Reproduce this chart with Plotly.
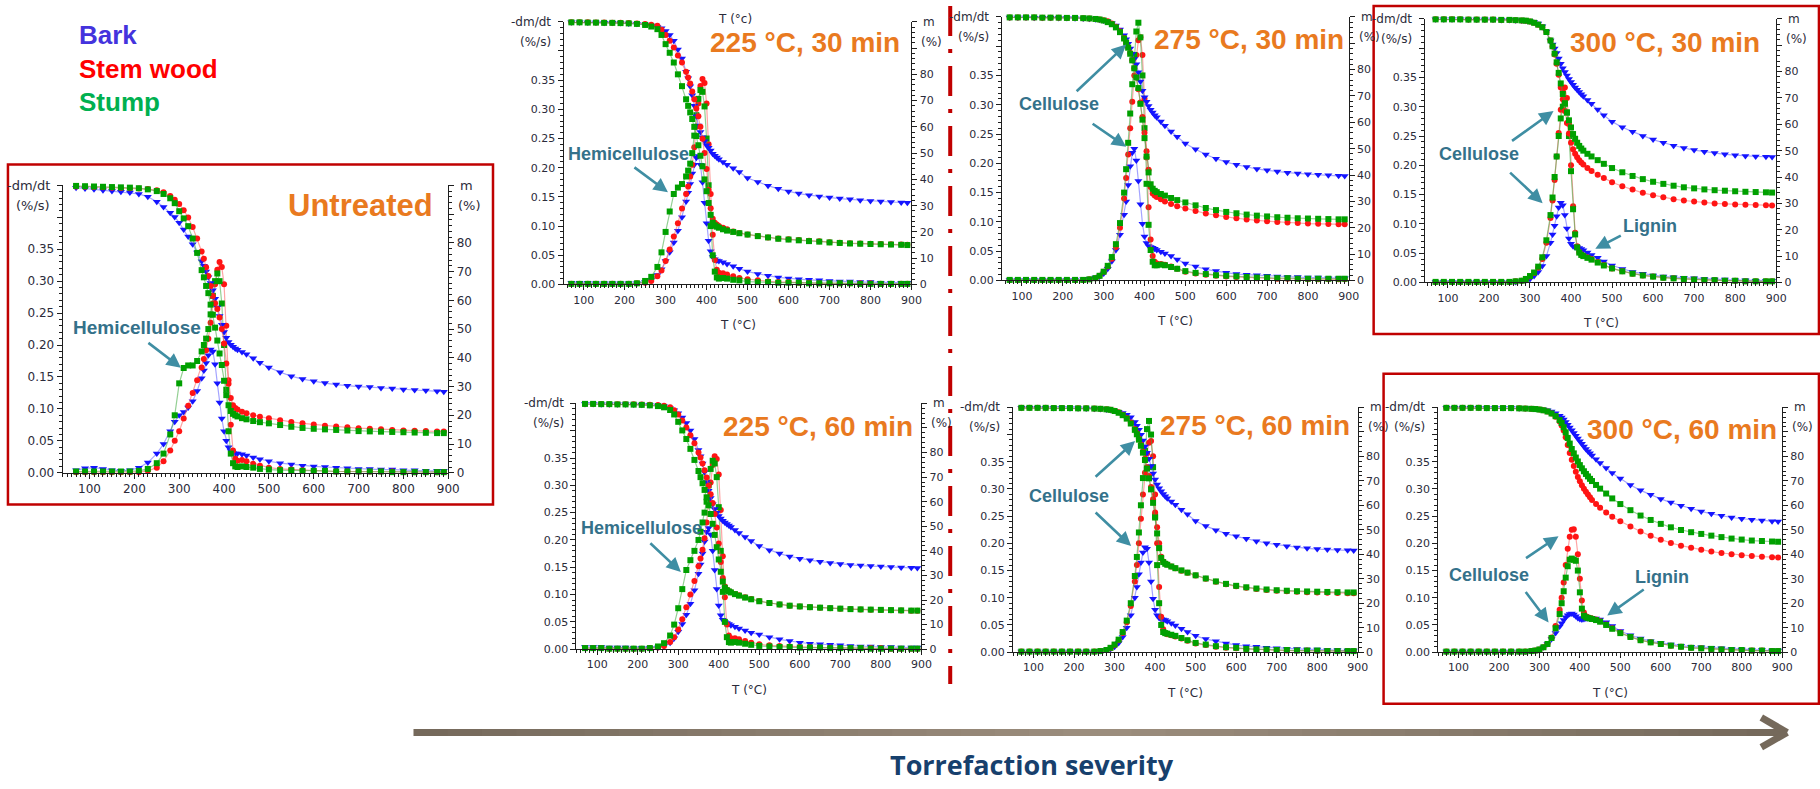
import plotly.graph_objects as go

# ---------------- DATA ----------------
TEMP_C = [70, 90, 110, 130, 150, 170, 190, 210, 230, 250,
          265, 280, 290, 300, 310, 320, 330, 340, 350,
          355, 360, 365, 370, 375, 380, 385, 390, 395, 400, 405, 410, 415, 420, 425, 430,
          440, 450, 465, 480, 500,
          525, 550, 575, 600, 625, 650, 675, 700, 725, 750, 775, 800, 825, 850, 875,
          890]

SERIES = ["Bark", "Stem wood", "Stump"]
PANEL_TITLES = ["Untreated", "225 °C, 30 min", "225 °C, 60 min", "275 °C, 30 min",
                "275 °C, 60 min", "300 °C, 30 min", "300 °C, 60 min"]
ANNOT_HEMI = "Hemicellulose"
ANNOT_CELL = "Cellulose"
ANNOT_LIGN = "Lignin"
AXIS_TEXT = ["-dm/dt", "(%/s)", "m", "(%)", "T (°C)"]
BOTTOM_TEXT = "Torrefaction severity"

# --- Untreated ---
m_bark_u = [99.2, 98.9, 98.6, 98.3, 98.0, 97.8, 97.5, 97.0, 96.0, 94.3,
            92.5, 90.5, 89.0, 87.0, 84.6, 82.2, 79.5, 76.6, 73.6,
            72.0, 70.0, 68.0, 66.0, 63.5, 60.5, 57.5, 54.5, 51.5, 49.0, 47.0, 45.5, 44.5, 43.8, 43.2, 42.8,
            42.0, 41.2, 39.8, 38.3, 36.6,
            35.0, 33.6, 32.6, 31.8, 31.2, 30.7, 30.3, 30.0, 29.8, 29.5, 29.3, 29.0, 28.8, 28.6, 28.4,
            28.2]
m_stem_u = [99.6, 99.5, 99.4, 99.3, 99.2, 99.1, 99.0, 98.9, 98.7, 98.3,
            97.6, 96.3, 95.0, 93.5, 91.3, 88.8, 85.5, 81.5, 77.0,
            74.5, 71.5, 68.5, 65.0, 61.5, 59.0, 57.0, 54.0, 50.0, 45.0, 38.0, 31.0, 26.0, 23.5, 22.5, 22.0,
            21.2, 20.7, 20.0, 19.5, 19.0,
            18.3, 17.7, 17.2, 16.8, 16.4, 16.1, 15.8, 15.5, 15.3, 15.1, 14.9, 14.7, 14.6, 14.5, 14.4,
            14.4]
m_stump_u = [99.8, 99.7, 99.6, 99.5, 99.4, 99.3, 99.2, 99.0, 98.6, 98.0,
             97.0, 95.5, 93.8, 91.0, 88.5, 85.8, 81.5, 76.5, 70.5,
             68.0, 65.0, 62.5, 58.5, 55.0, 50.5, 46.0, 41.5, 37.5, 32.0, 27.0, 23.5, 21.5, 20.5, 20.0, 19.6,
             19.0, 18.6, 18.0, 17.6, 17.2,
             16.6, 16.0, 15.6, 15.3, 15.1, 14.9, 14.7, 14.5, 14.4, 14.3, 14.2, 14.1, 14.0, 13.9, 13.8,
             13.8]
d_bark_u = [0.004, 0.007, 0.008, 0.006, 0.004, 0.003, 0.004, 0.008, 0.016, 0.030,
            0.045, 0.065, 0.080, 0.090, 0.095, 0.102, 0.112, 0.128, 0.148,
            0.160, 0.172, 0.184, 0.193, 0.190, 0.170, 0.140, 0.110, 0.085, 0.065, 0.050, 0.040, 0.034, 0.031, 0.030, 0.030,
            0.029, 0.027, 0.024, 0.021, 0.018,
            0.015, 0.013, 0.011, 0.010, 0.009, 0.008, 0.007, 0.006, 0.006, 0.005, 0.005, 0.004, 0.004, 0.003, 0.003,
            0.003]
d_stem_u = [0.001, 0.001, 0.001, 0.001, 0.001, 0.001, 0.001, 0.001, 0.003, 0.008,
            0.018, 0.035, 0.050, 0.065, 0.085, 0.105, 0.125, 0.145, 0.165,
            0.178, 0.192, 0.210, 0.235, 0.265, 0.295, 0.318, 0.330, 0.322, 0.295, 0.230, 0.145, 0.075, 0.035, 0.022, 0.019,
            0.020, 0.018, 0.014, 0.011, 0.008,
            0.006, 0.005, 0.004, 0.003, 0.003, 0.002, 0.002, 0.002, 0.002, 0.002, 0.002, 0.001, 0.001, 0.001, 0.001,
            0.001]
d_stump_u = [0.002, 0.002, 0.002, 0.002, 0.002, 0.002, 0.002, 0.003, 0.006, 0.015,
             0.030, 0.060, 0.090, 0.140, 0.164, 0.168, 0.168, 0.175, 0.190,
             0.200, 0.210, 0.225, 0.248, 0.277, 0.300, 0.312, 0.300, 0.265, 0.200, 0.130, 0.065, 0.030, 0.015, 0.010, 0.009,
             0.010, 0.009, 0.008, 0.006, 0.005,
             0.004, 0.004, 0.003, 0.003, 0.003, 0.002, 0.002, 0.002, 0.002, 0.002, 0.001, 0.001, 0.001, 0.001, 0.001,
             0.001]

# --- 225 C, 30 min ---
m_bark_a = [99.8, 99.8, 99.7, 99.7, 99.6, 99.6, 99.5, 99.4, 99.3, 99.0,
            98.6, 98.0, 97.5, 96.5, 95.0, 92.8, 89.5, 86.0, 81.0,
            78.5, 75.5, 72.0, 68.0, 64.0, 60.5, 58.0, 56.0, 54.5, 53.0, 52.0, 51.0, 49.8, 49.0, 48.3, 47.7,
            46.6, 45.6, 44.2, 42.8, 40.5,
            39.0, 37.6, 36.4, 35.4, 34.6, 34.0, 33.5, 33.1, 32.7, 32.4, 32.1, 31.8, 31.6, 31.4, 31.2,
            31.1]
m_stem_a = [99.8, 99.8, 99.8, 99.7, 99.7, 99.6, 99.6, 99.5, 99.4, 99.2,
            98.9, 98.5, 97.0, 95.0, 92.8, 90.2, 87.2, 84.5, 81.0,
            78.8, 76.5, 73.5, 70.5, 67.0, 64.0, 60.0, 55.5, 50.0, 44.0, 36.0, 29.0, 25.0, 23.5, 22.8, 22.3,
            21.6, 21.0, 20.2, 19.6, 19.0,
            18.4, 17.9, 17.5, 17.2, 16.9, 16.6, 16.4, 16.1, 15.9, 15.7, 15.6, 15.5, 15.4, 15.3, 15.2,
            15.1]
m_stump_a = [99.8, 99.8, 99.7, 99.7, 99.6, 99.6, 99.5, 99.4, 99.2, 98.8,
             98.2, 97.2, 95.0, 91.5, 88.2, 84.5, 80.0, 75.5, 70.5,
             68.0, 65.5, 63.0, 60.0, 56.5, 53.0, 49.0, 45.0, 40.0, 35.5, 31.0, 26.5, 23.5, 22.5, 22.0, 21.6,
             21.0, 20.5, 20.0, 19.5, 19.0,
             18.4, 17.9, 17.4, 17.1, 16.8, 16.5, 16.3, 16.0, 15.8, 15.6, 15.5, 15.4, 15.3, 15.2, 15.1,
             15.0]
d_bark_a = [0.003, 0.003, 0.003, 0.002, 0.002, 0.002, 0.002, 0.002, 0.002, 0.004,
            0.008, 0.016, 0.026, 0.040, 0.055, 0.072, 0.092, 0.115, 0.142,
            0.157, 0.172, 0.190, 0.205, 0.217, 0.220, 0.205, 0.175, 0.140, 0.105, 0.075, 0.057, 0.047, 0.043, 0.041, 0.040,
            0.038, 0.035, 0.031, 0.027, 0.022,
            0.018, 0.015, 0.012, 0.010, 0.009, 0.008, 0.007, 0.006, 0.005, 0.005, 0.004, 0.004, 0.003, 0.003, 0.003,
            0.003]
d_stem_a = [0.001, 0.001, 0.001, 0.001, 0.001, 0.001, 0.001, 0.001, 0.002, 0.003,
            0.006, 0.014, 0.024, 0.040, 0.060, 0.082, 0.105, 0.130, 0.155,
            0.168, 0.185, 0.205, 0.235, 0.270, 0.310, 0.340, 0.352, 0.345, 0.310, 0.240, 0.155, 0.085, 0.042, 0.025, 0.020,
            0.019, 0.017, 0.014, 0.011, 0.009,
            0.007, 0.005, 0.004, 0.004, 0.003, 0.003, 0.002, 0.002, 0.002, 0.002, 0.002, 0.002, 0.001, 0.001, 0.001,
            0.001]
d_stump_a = [0.001, 0.001, 0.001, 0.001, 0.001, 0.001, 0.001, 0.001, 0.002, 0.006,
             0.013, 0.030, 0.055, 0.090, 0.125, 0.155, 0.166, 0.172, 0.185,
             0.195, 0.207, 0.225, 0.255, 0.290, 0.318, 0.333, 0.330, 0.305, 0.250, 0.170, 0.100, 0.050, 0.022, 0.012, 0.010,
             0.011, 0.010, 0.008, 0.007, 0.005,
             0.004, 0.004, 0.003, 0.003, 0.003, 0.002, 0.002, 0.002, 0.002, 0.002, 0.001, 0.001, 0.001, 0.001, 0.001,
             0.001]

# --- 225 C, 60 min ---
m_bark_b = [99.8, 99.8, 99.7, 99.7, 99.6, 99.6, 99.5, 99.4, 99.3, 99.1,
            98.8, 98.0, 97.2, 96.0, 94.3, 92.0, 89.0, 85.5, 81.0,
            78.5, 75.5, 72.0, 68.0, 64.5, 61.5, 59.0, 57.0, 55.5, 54.2, 53.2, 52.3, 51.5, 50.9, 50.3, 49.7,
            48.5, 47.3, 45.6, 44.0, 42.0,
            40.3, 38.9, 37.7, 36.8, 36.2, 35.6, 35.1, 34.7, 34.3, 34.0, 33.8, 33.6, 33.4, 33.2, 33.1,
            33.0]
m_stem_b = [99.8, 99.8, 99.8, 99.7, 99.7, 99.6, 99.6, 99.5, 99.4, 99.3,
            99.0, 98.4, 97.2, 95.5, 93.0, 90.2, 87.0, 83.8, 80.0,
            78.0, 75.5, 72.8, 69.8, 66.5, 63.0, 59.5, 55.0, 49.5, 43.0, 35.5, 29.0, 25.5, 24.2, 23.6, 23.2,
            22.5, 21.9, 21.1, 20.4, 19.6,
            18.8, 18.2, 17.7, 17.4, 17.1, 16.9, 16.7, 16.5, 16.3, 16.1, 16.0, 15.9, 15.8, 15.7, 15.6,
            15.6]
m_stump_b = [99.8, 99.8, 99.7, 99.7, 99.6, 99.6, 99.5, 99.4, 99.2, 98.9,
             98.4, 97.3, 95.5, 92.5, 89.0, 85.5, 81.5, 77.0, 72.5,
             70.0, 67.5, 64.8, 61.8, 58.5, 55.0, 51.0, 46.5, 41.5, 36.5, 31.5, 27.5, 25.0, 24.0, 23.5, 23.1,
             22.4, 21.8, 21.0, 20.3, 19.5,
             18.8, 18.2, 17.7, 17.4, 17.1, 16.9, 16.7, 16.5, 16.3, 16.2, 16.1, 16.0, 15.9, 15.8, 15.7,
             15.7]
d_bark_b = [0.004, 0.004, 0.004, 0.003, 0.003, 0.003, 0.002, 0.002, 0.002, 0.003,
            0.006, 0.012, 0.020, 0.032, 0.046, 0.063, 0.083, 0.108, 0.138,
            0.155, 0.175, 0.197, 0.215, 0.222, 0.210, 0.180, 0.145, 0.110, 0.080, 0.062, 0.054, 0.050, 0.048, 0.046, 0.044,
            0.041, 0.038, 0.034, 0.030, 0.027,
            0.022, 0.018, 0.015, 0.012, 0.010, 0.009, 0.008, 0.007, 0.006, 0.005, 0.005, 0.004, 0.004, 0.003, 0.003,
            0.003]
d_stem_b = [0.002, 0.002, 0.002, 0.001, 0.001, 0.001, 0.001, 0.001, 0.002, 0.003,
            0.006, 0.013, 0.022, 0.036, 0.055, 0.077, 0.100, 0.125, 0.152,
            0.166, 0.182, 0.203, 0.232, 0.268, 0.305, 0.337, 0.353, 0.348, 0.320, 0.255, 0.170, 0.095, 0.045, 0.025, 0.020,
            0.020, 0.018, 0.015, 0.012, 0.009,
            0.007, 0.006, 0.005, 0.004, 0.004, 0.003, 0.003, 0.002, 0.002, 0.002, 0.002, 0.002, 0.001, 0.001, 0.001,
            0.001]
d_stump_b = [0.002, 0.002, 0.002, 0.001, 0.001, 0.001, 0.001, 0.001, 0.002, 0.005,
             0.011, 0.025, 0.045, 0.075, 0.110, 0.145, 0.163, 0.180, 0.200,
             0.215, 0.232, 0.250, 0.270, 0.300, 0.330, 0.345, 0.340, 0.315, 0.260, 0.180, 0.105, 0.050, 0.022, 0.013, 0.012,
             0.013, 0.012, 0.010, 0.008, 0.006,
             0.005, 0.004, 0.004, 0.003, 0.003, 0.003, 0.002, 0.002, 0.002, 0.002, 0.001, 0.001, 0.001, 0.001, 0.001,
             0.001]

# --- 275 C, 30 min ---
m_bark_c = [99.8, 99.8, 99.8, 99.7, 99.7, 99.7, 99.6, 99.6, 99.5, 99.4,
            99.3, 99.1, 98.9, 98.6, 98.2, 97.6, 96.7, 95.2, 93.0,
            91.5, 89.8, 88.0, 86.0, 84.0, 82.0, 79.0, 75.5, 72.0, 69.5, 67.8, 66.2, 64.8, 63.7, 62.7, 61.9,
            60.3, 58.7, 56.5, 54.5, 52.0,
            49.8, 47.8, 46.2, 44.9, 43.9, 43.0, 42.3, 41.8, 41.3, 40.9, 40.6, 40.3, 40.1, 39.9, 39.7,
            39.6]
m_stem_c = [99.8, 99.8, 99.8, 99.8, 99.7, 99.7, 99.7, 99.6, 99.6, 99.5,
            99.4, 99.2, 99.0, 98.7, 98.3, 97.5, 96.2, 94.5, 92.0,
            90.3, 88.5, 86.3, 83.5, 80.5, 77.0, 72.5, 67.5, 62.0, 56.0, 49.0, 42.0, 35.5, 33.0, 32.2, 31.7,
            30.8, 30.0, 29.0, 28.2, 27.3,
            26.4, 25.4, 24.7, 24.1, 23.6, 23.1, 22.8, 22.5, 22.2, 22.0, 21.8, 21.6, 21.5, 21.4, 21.3,
            21.3]
m_stump_c = [99.8, 99.8, 99.8, 99.8, 99.7, 99.7, 99.7, 99.6, 99.6, 99.5,
             99.4, 99.2, 99.0, 98.6, 98.0, 97.2, 96.0, 94.2, 91.8,
             90.2, 88.3, 86.0, 83.5, 80.5, 77.0, 73.0, 67.0, 61.0, 54.0, 47.0, 41.0, 36.5, 34.8, 34.0, 33.5,
             32.8, 32.2, 31.3, 30.5, 29.6,
             28.5, 27.5, 26.7, 26.0, 25.5, 25.0, 24.6, 24.3, 24.0, 23.8, 23.6, 23.5, 23.4, 23.3, 23.2,
             23.2]
d_bark_c = [0.001, 0.001, 0.001, 0.001, 0.001, 0.001, 0.001, 0.001, 0.001, 0.002,
            0.003, 0.005, 0.007, 0.012, 0.020, 0.033, 0.052, 0.078, 0.112,
            0.135, 0.163, 0.195, 0.218, 0.225, 0.205, 0.170, 0.130, 0.097, 0.075, 0.064, 0.059, 0.057, 0.056, 0.054, 0.052,
            0.049, 0.046, 0.042, 0.036, 0.029,
            0.024, 0.019, 0.016, 0.013, 0.011, 0.010, 0.009, 0.008, 0.007, 0.006, 0.006, 0.005, 0.005, 0.004, 0.004,
            0.004]
d_stem_c = [0.001, 0.001, 0.001, 0.001, 0.001, 0.001, 0.001, 0.001, 0.001, 0.001,
            0.002, 0.004, 0.008, 0.015, 0.024, 0.037, 0.057, 0.090, 0.140,
            0.175, 0.215, 0.260, 0.305, 0.350, 0.385, 0.410, 0.415, 0.385, 0.310, 0.210, 0.125, 0.070, 0.042, 0.032, 0.029,
            0.028, 0.027, 0.024, 0.020, 0.015,
            0.012, 0.010, 0.008, 0.007, 0.006, 0.005, 0.004, 0.004, 0.003, 0.003, 0.003, 0.002, 0.002, 0.002, 0.002,
            0.002]
d_stump_c = [0.001, 0.001, 0.001, 0.001, 0.001, 0.001, 0.001, 0.001, 0.001, 0.001,
             0.002, 0.004, 0.008, 0.015, 0.025, 0.040, 0.062, 0.098, 0.150,
             0.190, 0.235, 0.285, 0.335, 0.385, 0.425, 0.440, 0.415, 0.350, 0.260, 0.165, 0.095, 0.052, 0.032, 0.026, 0.026,
             0.027, 0.026, 0.023, 0.020, 0.016,
             0.013, 0.011, 0.009, 0.008, 0.007, 0.006, 0.005, 0.005, 0.004, 0.004, 0.003, 0.003, 0.003, 0.003, 0.003,
             0.003]

# --- 275 C, 60 min ---
m_bark_d = [99.8, 99.8, 99.8, 99.7, 99.7, 99.7, 99.6, 99.6, 99.5, 99.4,
            99.3, 99.1, 98.9, 98.6, 98.2, 97.7, 97.0, 96.0, 94.0,
            92.5, 90.8, 88.8, 86.5, 84.0, 81.5, 79.0, 76.0, 73.0, 70.5, 68.5, 67.0, 65.7, 64.6, 63.7, 62.9,
            61.5, 60.2, 58.2, 56.3, 53.6,
            51.5, 49.8, 48.4, 47.3, 46.3, 45.3, 44.5, 43.9, 43.3, 42.8, 42.4, 42.1, 41.9, 41.7, 41.6,
            41.5]
m_stem_d = [99.8, 99.8, 99.8, 99.8, 99.7, 99.7, 99.7, 99.6, 99.6, 99.5,
            99.4, 99.2, 99.0, 98.6, 98.0, 97.0, 95.7, 93.8, 91.2,
            89.5, 87.3, 84.8, 82.0, 79.0, 75.5, 72.0, 67.5, 62.5, 57.0, 51.0, 44.5, 39.0, 37.0, 36.2, 35.8,
            35.0, 34.3, 33.3, 32.4, 31.3,
            30.0, 28.8, 27.7, 26.9, 26.3, 25.8, 25.4, 25.1, 24.9, 24.7, 24.5, 24.4, 24.3, 24.2, 24.1,
            24.1]
m_stump_d = [99.8, 99.8, 99.8, 99.8, 99.7, 99.7, 99.7, 99.6, 99.6, 99.5,
             99.4, 99.2, 99.0, 98.5, 97.8, 96.8, 95.4, 93.4, 90.8,
             89.0, 86.8, 84.3, 81.5, 78.5, 75.0, 71.0, 66.5, 61.0, 55.0, 48.5, 42.5, 38.5, 36.8, 36.1, 35.7,
             35.0, 34.3, 33.4, 32.5, 31.4,
             30.1, 28.9, 27.9, 27.1, 26.5, 26.0, 25.6, 25.3, 25.1, 24.9, 24.8, 24.7, 24.6, 24.5, 24.4,
             24.4]
d_bark_d = [0.001, 0.001, 0.001, 0.001, 0.001, 0.001, 0.001, 0.001, 0.001, 0.001,
            0.002, 0.004, 0.006, 0.010, 0.017, 0.028, 0.045, 0.068, 0.100,
            0.120, 0.143, 0.165, 0.183, 0.193, 0.190, 0.165, 0.130, 0.098, 0.078, 0.068, 0.063, 0.061, 0.060, 0.059, 0.057,
            0.053, 0.049, 0.043, 0.037, 0.030,
            0.024, 0.020, 0.016, 0.013, 0.011, 0.010, 0.008, 0.007, 0.006, 0.006, 0.005, 0.005, 0.004, 0.004, 0.003,
            0.003]
d_stem_d = [0.001, 0.001, 0.001, 0.001, 0.001, 0.001, 0.001, 0.001, 0.001, 0.001,
            0.002, 0.004, 0.007, 0.013, 0.022, 0.035, 0.055, 0.085, 0.130,
            0.160, 0.200, 0.245, 0.290, 0.330, 0.365, 0.385, 0.388, 0.360, 0.290, 0.200, 0.120, 0.065, 0.042, 0.035, 0.033,
            0.031, 0.029, 0.025, 0.021, 0.016,
            0.013, 0.010, 0.008, 0.007, 0.006, 0.005, 0.004, 0.004, 0.003, 0.003, 0.003, 0.002, 0.002, 0.002, 0.002,
            0.002]
d_stump_d = [0.001, 0.001, 0.001, 0.001, 0.001, 0.001, 0.001, 0.001, 0.001, 0.001,
             0.002, 0.004, 0.008, 0.014, 0.023, 0.037, 0.058, 0.090, 0.140,
             0.175, 0.220, 0.270, 0.320, 0.370, 0.410, 0.425, 0.400, 0.340, 0.250, 0.160, 0.090, 0.050, 0.037, 0.035, 0.034,
             0.032, 0.030, 0.026, 0.022, 0.017,
             0.014, 0.011, 0.009, 0.008, 0.006, 0.005, 0.005, 0.004, 0.004, 0.003, 0.003, 0.003, 0.002, 0.002, 0.002,
             0.002]

# --- 300 C, 30 min ---
m_bark_e = [99.8, 99.8, 99.8, 99.8, 99.7, 99.7, 99.7, 99.7, 99.6, 99.6,
            99.5, 99.4, 99.3, 99.1, 98.8, 98.2, 97.2, 95.2, 91.8,
            90.3, 88.7, 87.0, 85.0, 83.0, 81.3, 79.8, 78.5, 77.2, 76.0, 75.0, 74.0, 73.1, 72.2, 71.4, 70.6,
            69.2, 67.8, 65.6, 63.4, 61.0,
            58.9, 57.2, 55.6, 54.2, 53.0, 51.9, 51.0, 50.2, 49.6, 49.1, 48.6, 48.3, 48.0, 47.8, 47.7,
            47.6]
m_stem_e = [99.8, 99.8, 99.8, 99.8, 99.7, 99.7, 99.7, 99.7, 99.6, 99.6,
            99.5, 99.4, 99.3, 99.0, 98.5, 97.8, 96.8, 95.0, 91.8,
            89.5, 86.5, 83.0, 78.8, 74.0, 69.5, 65.0, 60.5, 56.5, 53.0, 50.5, 48.8, 47.5, 46.4, 45.5, 44.7,
            43.4, 42.3, 40.9, 39.6, 38.0,
            36.5, 35.3, 34.0, 33.1, 32.3, 31.6, 31.1, 30.7, 30.3, 30.0, 29.8, 29.6, 29.5, 29.4, 29.3,
            29.2]
m_stump_e = [99.8, 99.8, 99.8, 99.8, 99.7, 99.7, 99.7, 99.7, 99.6, 99.6,
             99.5, 99.4, 99.3, 99.0, 98.5, 97.8, 96.8, 95.0, 91.8,
             89.6, 86.8, 83.5, 79.5, 75.5, 71.5, 68.0, 64.5, 61.5, 58.8, 56.3, 54.5, 53.0, 51.8, 50.8, 50.0,
             48.8, 47.8, 46.4, 45.0, 43.4,
             41.8, 40.4, 39.2, 38.2, 37.4, 36.7, 36.1, 35.7, 35.3, 35.0, 34.8, 34.6, 34.4, 34.3, 34.2,
             34.1]
d_bark_e = [0.001, 0.001, 0.001, 0.001, 0.001, 0.001, 0.001, 0.001, 0.001, 0.001,
            0.001, 0.002, 0.004, 0.006, 0.011, 0.018, 0.028, 0.045, 0.068,
            0.082, 0.097, 0.113, 0.128, 0.136, 0.132, 0.115, 0.092, 0.075, 0.066, 0.062, 0.060, 0.060, 0.059, 0.057, 0.055,
            0.051, 0.047, 0.042, 0.036, 0.029,
            0.023, 0.018, 0.015, 0.012, 0.010, 0.009, 0.008, 0.007, 0.006, 0.005, 0.005, 0.004, 0.004, 0.003, 0.003,
            0.003]
d_stem_e = [0.001, 0.001, 0.001, 0.001, 0.001, 0.001, 0.001, 0.001, 0.001, 0.001,
            0.002, 0.003, 0.006, 0.010, 0.016, 0.025, 0.040, 0.068, 0.110,
            0.140, 0.175, 0.215, 0.255, 0.295, 0.325, 0.333, 0.315, 0.270, 0.200, 0.130, 0.085, 0.062, 0.052, 0.048, 0.046,
            0.043, 0.040, 0.035, 0.030, 0.024,
            0.019, 0.015, 0.012, 0.010, 0.008, 0.007, 0.006, 0.005, 0.004, 0.004, 0.003, 0.003, 0.002, 0.002, 0.002,
            0.002]
d_stump_e = [0.001, 0.001, 0.001, 0.001, 0.001, 0.001, 0.001, 0.001, 0.001, 0.001,
             0.002, 0.003, 0.006, 0.011, 0.017, 0.027, 0.043, 0.072, 0.115,
             0.145, 0.180, 0.215, 0.250, 0.280, 0.300, 0.305, 0.290, 0.250, 0.190, 0.125, 0.082, 0.060, 0.051, 0.047, 0.045,
             0.042, 0.039, 0.034, 0.029, 0.024,
             0.019, 0.015, 0.012, 0.010, 0.008, 0.007, 0.006, 0.005, 0.004, 0.004, 0.003, 0.003, 0.002, 0.002, 0.002,
             0.002]

# --- 300 C, 60 min ---
m_bark_f = [99.8, 99.8, 99.8, 99.8, 99.8, 99.7, 99.7, 99.7, 99.7, 99.6,
            99.6, 99.5, 99.4, 99.3, 99.1, 98.8, 98.3, 97.6, 96.6,
            95.9, 95.0, 94.0, 92.9, 91.8, 90.6, 89.5, 88.4, 87.3, 86.2, 85.1, 84.0, 83.0, 82.1, 81.2, 80.3,
            78.8, 77.3, 75.2, 73.2, 70.9,
            68.3, 66.1, 64.3, 62.6, 61.1, 59.8, 58.6, 57.5, 56.5, 55.7, 55.0, 54.5, 54.1, 53.8, 53.5,
            53.4]
m_stem_f = [99.8, 99.8, 99.8, 99.8, 99.8, 99.7, 99.7, 99.7, 99.7, 99.6,
            99.5, 99.4, 99.3, 99.1, 98.8, 98.3, 97.5, 96.2, 94.2,
            92.6, 90.5, 87.8, 84.6, 81.4, 78.6, 76.0, 73.7, 71.6, 69.8, 68.2, 66.8, 65.5, 64.4, 63.3, 62.2,
            60.5, 59.0, 57.0, 55.3, 53.5,
            51.3, 49.3, 47.5, 45.9, 44.6, 43.5, 42.6, 41.8, 41.1, 40.5, 40.0, 39.6, 39.3, 39.0, 38.8,
            38.7]
m_stump_f = [99.8, 99.8, 99.8, 99.8, 99.8, 99.7, 99.7, 99.7, 99.7, 99.6,
             99.5, 99.4, 99.3, 99.1, 98.8, 98.3, 97.5, 96.4, 94.8,
             93.6, 91.9, 89.8, 87.5, 85.2, 83.0, 81.2, 79.5, 77.9, 76.4, 75.1, 73.9, 72.8, 71.8, 70.8, 69.9,
             68.3, 66.8, 64.8, 62.8, 60.5,
             58.0, 55.8, 54.0, 52.4, 51.0, 49.9, 49.0, 48.3, 47.6, 47.0, 46.4, 46.0, 45.6, 45.4, 45.2,
             45.1]
d_bark_f = [0.001, 0.001, 0.001, 0.001, 0.001, 0.001, 0.001, 0.001, 0.001, 0.001,
            0.001, 0.002, 0.003, 0.005, 0.009, 0.015, 0.024, 0.035, 0.047,
            0.053, 0.059, 0.064, 0.068, 0.070, 0.071, 0.069, 0.066, 0.063, 0.061, 0.060, 0.061, 0.062, 0.063, 0.063, 0.063,
            0.062, 0.060, 0.055, 0.048, 0.039,
            0.031, 0.025, 0.020, 0.017, 0.014, 0.012, 0.010, 0.009, 0.008, 0.007, 0.006, 0.005, 0.004, 0.004, 0.003,
            0.003]
d_stem_f = [0.001, 0.001, 0.001, 0.001, 0.001, 0.001, 0.001, 0.001, 0.001, 0.001,
            0.001, 0.002, 0.003, 0.005, 0.009, 0.015, 0.027, 0.048, 0.078,
            0.100, 0.128, 0.160, 0.190, 0.212, 0.225, 0.226, 0.212, 0.180, 0.135, 0.095, 0.073, 0.066, 0.064, 0.063, 0.062,
            0.060, 0.057, 0.051, 0.044, 0.036,
            0.028, 0.022, 0.018, 0.015, 0.012, 0.010, 0.008, 0.007, 0.006, 0.005, 0.004, 0.004, 0.003, 0.003, 0.002,
            0.002]
d_stump_f = [0.001, 0.001, 0.001, 0.001, 0.001, 0.001, 0.001, 0.001, 0.001, 0.001,
             0.001, 0.002, 0.003, 0.005, 0.009, 0.015, 0.026, 0.044, 0.070,
             0.090, 0.112, 0.137, 0.158, 0.170, 0.172, 0.170, 0.168, 0.150, 0.110, 0.080, 0.067, 0.064, 0.063, 0.062, 0.061,
             0.059, 0.056, 0.050, 0.043, 0.035,
             0.028, 0.022, 0.018, 0.015, 0.012, 0.010, 0.008, 0.007, 0.006, 0.005, 0.004, 0.004, 0.003, 0.003, 0.002,
             0.002]

PANEL_MASS = [[m_bark_u, m_stem_u, m_stump_u], [m_bark_a, m_stem_a, m_stump_a],
              [m_bark_b, m_stem_b, m_stump_b], [m_bark_c, m_stem_c, m_stump_c],
              [m_bark_d, m_stem_d, m_stump_d], [m_bark_e, m_stem_e, m_stump_e],
              [m_bark_f, m_stem_f, m_stump_f]]
PANEL_DTG = [[d_bark_u, d_stem_u, d_stump_u], [d_bark_a, d_stem_a, d_stump_a],
             [d_bark_b, d_stem_b, d_stump_b], [d_bark_c, d_stem_c, d_stump_c],
             [d_bark_d, d_stem_d, d_stump_d], [d_bark_e, d_stem_e, d_stump_e],
             [d_bark_f, d_stem_f, d_stump_f]]

for grp in PANEL_MASS + PANEL_DTG:
    for arr in grp:
        assert len(arr) == len(TEMP_C), len(arr)

# ---------------- LAYOUT / STYLE ----------------
W, H = 1820, 789


def px(x):
    return x / W


def py(y):
    return 1 - y / H


# panel geometry in pixels: left, right, top, bottom, x-min, font size
GEOM = [
    dict(l=63, r=451, t=187, b=477, xmin=40, fs=12),
    dict(l=567, r=917, t=22, b=287, xmin=51, fs=11),
    dict(l=580, r=927, t=407, b=655, xmin=49, fs=11),
    dict(l=1008, r=1357, t=17, b=283, xmin=51, fs=11),
    dict(l=1019, r=1366, t=411, b=658, xmin=49, fs=11),
    dict(l=1434, r=1787, t=19, b=285, xmin=45, fs=11),
    dict(l=1447, r=1793, t=411, b=658, xmin=50, fs=11),
]
TITLE_POS = [(363, 207, 31), (810, 43, 28), (823, 430, 28), (1257, 40, 28),
             (1263, 429, 28), (1675, 43, 28), (1692, 433, 28)]

STYLE = [
    dict(symbol="triangle-down", size=7, color="#1414FF", line="rgba(90,90,255,0.55)"),
    dict(symbol="circle", size=6, color="#FF1414", line="rgba(255,90,90,0.55)"),
    dict(symbol="square", size=6, color="#00A000", line="rgba(60,170,60,0.55)"),
]
LEGEND_COLORS = ["#4433DD", "#FF0000", "#00B050"]
ORANGE = "#E97A1F"
TEAL_TXT = "#34718A"
TEAL_ARW = "#3F8EA3"
AX_COL = "#1e1e1e"
TICK_FONT_COL = "#2b2b3a"
FONT = "DejaVu Sans"

fig = go.Figure()
lay = {}
annotations = []
shapes = []

for k, g in enumerate(GEOM):
    xi, yl, yr = k + 1, 2 * k + 1, 2 * k + 2
    xname = "x" if xi == 1 else f"x{xi}"
    ylname = "y" if yl == 1 else f"y{yl}"
    yrname = f"y{yr}"
    xkey = "xaxis" if xi == 1 else f"xaxis{xi}"
    ylkey = "yaxis" if yl == 1 else f"yaxis{yl}"
    yrkey = f"yaxis{yr}"
    tf = dict(family=FONT, size=g["fs"], color=TICK_FONT_COL)
    common = dict(showline=True, linecolor=AX_COL, linewidth=1, ticks="outside", ticklen=5,
                  tickcolor=AX_COL, showgrid=False, zeroline=False, tickfont=tf, fixedrange=True)
    lay[xkey] = dict(common, domain=[px(g["l"]), px(g["r"])], anchor=ylname,
                     range=[g["xmin"], 900], tickmode="linear", tick0=0, dtick=100,
                     minor=dict(dtick=10, ticklen=3, ticks="outside", tickcolor=AX_COL))
    lay[ylkey] = dict(common, domain=[py(g["b"]), py(g["t"])], anchor=xname,
                      range=[0, 0.45], tickmode="linear", tick0=0, dtick=0.05, tickformat=".2f",
                      labelalias={"0.40": "", "0.45": ""},
                      minor=dict(dtick=0.01, ticklen=3, ticks="outside", tickcolor=AX_COL))
    lay[yrkey] = dict(common, overlaying=ylname, side="right", anchor=xname,
                      range=[0, 100], tickmode="linear", tick0=0, dtick=10,
                      labelalias={"90": "", "100": ""},
                      minor=dict(dtick=2, ticklen=3, ticks="outside", tickcolor=AX_COL))

    for s in range(3):
        st = STYLE[s]
        for vals, yname in ((PANEL_MASS[k][s], yrname), (PANEL_DTG[k][s], ylname)):
            fig.add_trace(go.Scatter(
                x=TEMP_C, y=vals, xaxis=xname, yaxis=yname, mode="lines+markers",
                name=SERIES[s], showlegend=False, cliponaxis=False,
                line=dict(color=st["line"], width=1.2),
                marker=dict(symbol=st["symbol"], size=st["size"], color=st["color"],
                            line=dict(width=0))))

    # axis header texts
    afs = g["fs"] + 1
    annotations += [
        dict(x=px(g["l"] - 11), y=py(g["t"]), text=AXIS_TEXT[0], xanchor="right", yanchor="middle"),
        dict(x=px(g["l"] - 11), y=py(g["t"] + 20), text=AXIS_TEXT[1], xanchor="right", yanchor="middle"),
        dict(x=px(g["r"] + 10), y=py(g["t"]), text=AXIS_TEXT[2], xanchor="left", yanchor="middle"),
        dict(x=px(g["r"] + 8), y=py(g["t"] + 20), text=AXIS_TEXT[3], xanchor="left", yanchor="middle"),
    ]
    for a in annotations[-4:]:
        a.update(xref="paper", yref="paper", showarrow=False,
                 font=dict(family=FONT, size=afs, color=TICK_FONT_COL))
    if k > 0:
        annotations.append(dict(x=px((g["l"] + g["r"]) / 2), y=py(g["b"] + 41), text=AXIS_TEXT[4],
                                xref="paper", yref="paper", showarrow=False, xanchor="center",
                                yanchor="middle", font=dict(family=FONT, size=12, color=TICK_FONT_COL)))
    tx, ty, tfs = TITLE_POS[k]
    annotations.append(dict(x=px(tx), y=py(ty), text=f"<b>{PANEL_TITLES[k]}</b>", xref="paper",
                            yref="paper", showarrow=False, xanchor="center", yanchor="middle",
                            font=dict(family="Liberation Sans", size=tfs, color=ORANGE)))

# stray top label of the 225/30 panel
annotations.append(dict(x=px(739), y=py(19), text="T (°c)", xref="paper", yref="paper",
                        showarrow=False, xanchor="center", yanchor="middle",
                        font=dict(family=FONT, size=12, color=TICK_FONT_COL)))

# component labels: (text, x, y, size)
COMP_LABELS = [(ANNOT_HEMI, 138, 330, 19), (ANNOT_HEMI, 632, 155, 18), (ANNOT_HEMI, 645, 533, 18),
               (ANNOT_CELL, 1065, 105, 18), (ANNOT_CELL, 1075, 500, 18), (ANNOT_CELL, 1488, 155, 18),
               (ANNOT_LIGN, 1660, 228, 18), (ANNOT_CELL, 1498, 580, 18), (ANNOT_LIGN, 1672, 582, 18)]
for txt, x, y, fs in COMP_LABELS:
    annotations.append(dict(x=px(x), y=py(y), text=f"<b>{txt}</b>", xref="paper", yref="paper",
                            showarrow=False, xanchor="center", yanchor="middle",
                            font=dict(family="Liberation Sans", size=fs, color=TEAL_TXT)))

# arrows: tail (x, y) -> head (x, y)
ARROWS = [((148, 345), (182, 371)), ((637, 168), (672, 194)), ((653, 547), (685, 577)),
          ((1082, 93), (1133, 45)), ((1098, 124), (1133, 148)),
          ((1101, 482), (1142, 445)), ((1101, 516), (1138, 551)),
          ((1520, 143), (1563, 112)), ((1518, 173), (1552, 205)), ((1632, 237), (1605, 251)),
          ((1534, 564), (1568, 541)), ((1534, 596), (1558, 628)), ((1655, 594), (1617, 621))]
for (tx0, ty0), (hx, hy) in ARROWS:
    annotations.append(dict(x=px(hx), y=py(hy), ax=tx0 - hx, ay=ty0 - hy, text="", xref="paper",
                            yref="paper", showarrow=True, arrowhead=2, arrowsize=1.1,
                            arrowwidth=2.6, arrowcolor=TEAL_ARW))

# series legend (coloured words)
for i, (name, yy) in enumerate(zip(SERIES, (35, 70, 103))):
    annotations.append(dict(x=px(77), y=py(yy), text=f"<b>{name}</b>", xref="paper", yref="paper",
                            showarrow=False, xanchor="left", yanchor="middle",
                            font=dict(family="Liberation Sans", size=26, color=LEGEND_COLORS[i])))

# bottom caption
annotations.append(dict(x=px(1038), y=py(771), text=f"<b>{BOTTOM_TEXT}</b>", xref="paper",
                        yref="paper", showarrow=False, xanchor="center", yanchor="middle",
                        font=dict(family="Open Sans", size=27, color="#17406D")))

# red frames
for (x0, y0, x1, y1) in [(8, 166, 496, 509), (1382, 6, 1830, 337), (1392, 377, 1830, 710)]:
    shapes.append(dict(type="rect", xref="paper", yref="paper", x0=px(x0), x1=px(x1),
                       y0=py(y1), y1=py(y0), line=dict(color="#C00000", width=2.5),
                       fillcolor="rgba(0,0,0,0)"))

# dash-dot separator
shapes.append(dict(type="line", xref="paper", yref="paper", x0=px(956), x1=px(956),
                   y0=py(6), y1=py(690),
                   line=dict(color="#C00000", width=4, dash="30px,13px,4px,13px")))

# gradient arrow (severity)
N = 40
x_start, x_end, y_ar = 416, 1792, 739
c_edge = (117, 105, 91)
c_mid = (156, 142, 126)
for i in range(N):
    t = (i + 0.5) / N
    w = 1 - abs(2 * t - 1)
    col = tuple(int(c_edge[j] + (c_mid[j] - c_edge[j]) * w) for j in range(3))
    xa = x_start + (x_end - x_start) * i / N
    xb = x_start + (x_end - x_start) * (i + 1) / N + 1
    shapes.append(dict(type="line", xref="paper", yref="paper", x0=px(xa), x1=px(xb),
                       y0=py(y_ar), y1=py(y_ar), line=dict(color=f"rgb{col}", width=7)))
for (ax0, ay0) in [(1772, 724), (1772, 754)]:
    shapes.append(dict(type="line", xref="paper", yref="paper", x0=px(ax0), x1=px(1798),
                       y0=py(ay0), y1=py(y_ar), line=dict(color="rgb(117,105,91)", width=7)))

fig.update_layout(
    width=W, height=H, margin=dict(l=0, r=0, t=0, b=0),
    paper_bgcolor="white", plot_bgcolor="white", showlegend=False,
    annotations=annotations, shapes=shapes, **lay)

fig.write_html("out.html")
